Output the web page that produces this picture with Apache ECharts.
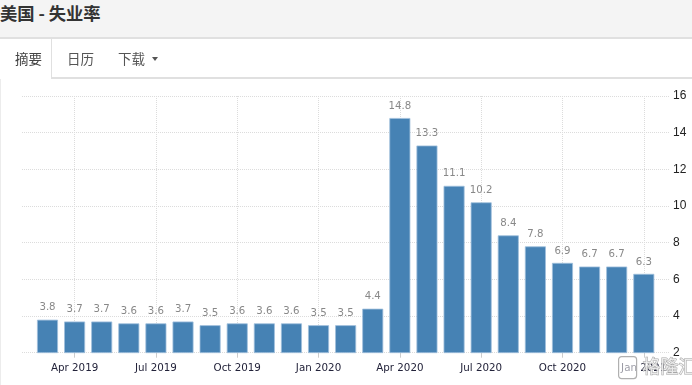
<!DOCTYPE html>
<html>
<head>
<meta charset="utf-8">
<script src="https://cdn.jsdelivr.net/npm/echarts@6/dist/echarts.min.js"></script>
<style>
  html, body { margin: 0; padding: 0; background: #fff; width: 692px; height: 385px; overflow: hidden; }
  #chart { position: absolute; left: 0; top: 0; width: 692px; height: 385px; }
  #hdr { position: absolute; left: 0; top: 0; width: 692px; height: 37px; background: #f4f4f4; border-bottom: 2px solid #e0e0e0; pointer-events: none; }
  #title { position: absolute; left: 0; top: 0; line-height: 36px; font: bold 17.3px "Noto Sans CJK SC", sans-serif; color: #333; white-space: nowrap; }
  .tab { position: absolute; top: 48px; line-height: 20px; font: 13.5px "Noto Sans CJK SC", sans-serif; color: #555; white-space: nowrap; pointer-events: none; }
  .line { position: absolute; background: #e0e0e0; pointer-events: none; }
  #caret { position: absolute; left: 152px; top: 57px; width: 0; height: 0; border-left: 3.5px solid transparent; border-right: 3.5px solid transparent; border-top: 4px solid #555; }
</style>
</head>
<body>
<div id="chart"></div>
<div id="hdr"><span id="title">美国 - 失业率</span></div>
<div class="tab" style="left:15px;color:#444">摘要</div>
<div class="tab" style="left:67px">日历</div>
<div class="tab" style="left:118px">下载</div>
<div id="caret"></div>
<div class="line" style="left:51px;top:39px;width:1px;height:39px;"></div>
<div class="line" style="left:51px;top:77px;width:641px;height:2px;"></div>
<div class="line" style="left:0px;top:79px;width:1px;height:306px;background:#ececec"></div>
<script>
// ---- data ----
const categories = ['Mar 2019','Apr 2019','May 2019','Jun 2019','Jul 2019','Aug 2019','Sep 2019','Oct 2019','Nov 2019','Dec 2019',
  'Jan 2020','Feb 2020','Mar 2020','Apr 2020','May 2020','Jun 2020','Jul 2020','Aug 2020','Sep 2020','Oct 2020','Nov 2020','Dec 2020','Jan 2021'];
const values = [3.8,3.7,3.7,3.6,3.6,3.7,3.5,3.6,3.6,3.6,3.5,3.5,4.4,14.8,13.3,11.1,10.2,8.4,7.8,6.9,6.7,6.7,6.3];
const yMin = 2, yMax = 16, yInterval = 2;
// labels shown every quarter (Apr, Jul, Oct, Jan)
const showIdx = (i) => i % 3 === 1;

const chart = echarts.init(document.getElementById('chart'), null, { renderer: 'canvas' });
const dotted = { color: '#dcdcdc', type: [1, 1], width: 1 };
const fontA = 'Liberation Sans, Arial, sans-serif';
const fontV = 'DejaVu Sans, Verdana, sans-serif';
// category pitch: first bar centre 47.5px, last 643.8px
const pitch = (643.8 - 47.5) / (categories.length - 1);
const barLeft = 47.5 - pitch / 2;
const barRight = 692 - (643.8 + pitch / 2);
chart.setOption({
  animation: false,
  backgroundColor: 'transparent',
  grid: [
    { left: 22, right: 22, top: 96, bottom: 32.3 },
    { left: barLeft, right: barRight, top: 96, bottom: 32.3 },
    { left: 47.5, right: 48.2, top: 96, bottom: 32.3 }
  ],
  xAxis: [
    { gridIndex: 0, type: 'category', data: categories, show: false },
    { gridIndex: 1, type: 'category', data: categories, show: false },
    {
      gridIndex: 2, type: 'category', data: categories, boundaryGap: false,
      axisLine: { show: false },
      axisTick: { show: true, interval: showIdx, length: 5, lineStyle: { color: '#cccccc' } },
      axisLabel: { interval: showIdx, color: '#23233a', fontSize: 10.3, fontFamily: fontV, margin: 11 },
      splitLine: { show: true, interval: showIdx, lineStyle: dotted }
    }
  ],
  yAxis: [
    {
      gridIndex: 0, type: 'value', position: 'right', min: yMin, max: yMax, interval: yInterval,
      axisLine: { show: false }, axisTick: { show: false },
      axisLabel: { color: '#222', fontSize: 12, fontFamily: fontA, margin: 3 },
      splitLine: { show: true, lineStyle: dotted }
    },
    { gridIndex: 1, type: 'value', min: yMin, max: yMax, interval: yInterval, show: false, splitLine: { show: false } },
    { gridIndex: 2, type: 'value', min: yMin, max: yMax, interval: yInterval, show: false, splitLine: { show: false } }
  ],
  series: [{
    type: 'bar', xAxisIndex: 1, yAxisIndex: 1, data: values, barWidth: 21,
    itemStyle: { color: '#4682b4', borderColor: '#9fbfdc', borderWidth: 0.8 },
    label: { show: true, position: 'top', distance: 7, color: '#888', fontSize: 10.2, fontFamily: fontV }
  }],
  graphic: [
    { type: 'rect', left: 618, top: 356, shape: { width: 18, height: 22, r: 3 }, style: { fill: 'rgba(255,255,255,0.55)', stroke: '#b0b0b0', lineWidth: 1.2 }, z: 100 },
    { type: 'text', left: 642, top: 357, style: { text: '格隆汇', fontSize: 18, fontFamily: 'Noto Sans CJK SC', fill: 'rgba(255,255,255,0.7)', stroke: '#a8a8a8', lineWidth: 1 }, z: 100 }
  ]
});
</script>
</body>
</html>
